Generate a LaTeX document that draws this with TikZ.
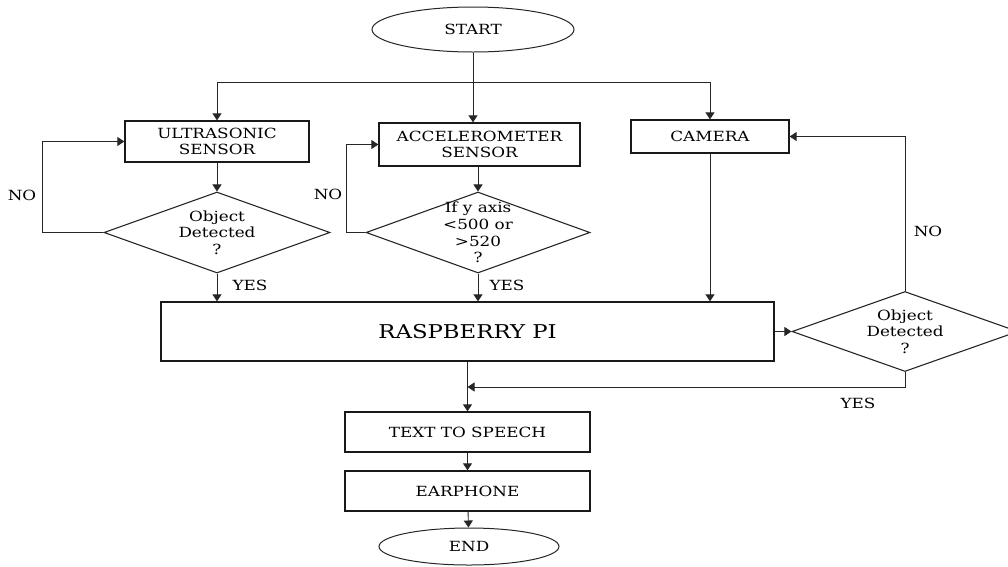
\documentclass[tikz,border=0pt]{standalone}
\usepackage{fontspec}
\setmainfont{DejaVu Serif}[FakeStretch=1.2]
\usetikzlibrary{arrows.meta,shapes.geometric}
\tikzset{
	box/.style={draw=black!90, line width=1.3pt, inner sep=0pt, align=center, font=\fontsize{14}{16.7}\selectfont},
	terminal/.style={ellipse, draw=black!85, line width=1pt, inner sep=0pt, font=\fontsize{14}{16.7}\selectfont},
	decision/.style={diamond, draw=black!85, line width=1.1pt, inner sep=-10pt, aspect=2.8, align=center, font=\fontsize{14}{16.7}\selectfont},
	flow/.style={draw=black!85, line width=0.9pt, -{Triangle[length=7pt,width=9pt]}},
	link/.style={draw=black!85, line width=0.9pt},
	tag/.style={font=\fontsize{14}{16.7}\selectfont}
}

\begin{document}
\begin{tikzpicture}[x=1pt, y=-1pt]
			%%%%% START %%%%%
			\useasboundingbox (0, 0) rectangle (1008, 566);
			
			\node[terminal, minimum width=202pt, minimum height=45pt] (start) at (473, 29.5) {START};
			\coordinate (split) at (473, 82);
			
			\node[box, minimum width=184pt, minimum height=41pt] (ultra) at (217, 141.5) {ULTRASONIC\\SENSOR};
			\node[box, minimum width=201pt, minimum height=43pt] (accel) at (479.5, 144.5) {ACCELEROMETER\\SENSOR};
			\node[box, minimum width=158pt, minimum height=33pt] (camera) at (710, 136.5) {CAMERA};
			
			\node[decision, minimum width=226pt, minimum height=81pt] (udec) at (217, 232.5) {Object\\Detected\\?};
			\node[decision, minimum width=224pt, minimum height=81pt] (adec) at (478, 232.5) {If y axis\\<500 or\\>520\\?};
			
			\node[box, minimum width=613pt, minimum height=59pt, font=\fontsize{19}{22}\selectfont] (rpi) at (467.5, 331.5) {RASPBERRY PI};
			\node[decision, minimum width=226pt, minimum height=80pt] (rdec) at (905, 331.5) {Object\\Detected\\?};
			\coordinate (merge) at (467.5, 387);
			
			\node[box, minimum width=245pt, minimum height=40pt] (tts) at (467.5, 432) {TEXT TO SPEECH};
			\node[box, minimum width=245pt, minimum height=40pt] (ear) at (467.5, 491) {EARPHONE};
			\node[terminal, minimum width=180pt, minimum height=37pt] (end) at (469, 546.5) {END};
			
			%%%%% LABELS %%%%%
			\node[tag] (noultra) at (22, 195) {NO};
			\node[tag] (noaccel) at (328, 194) {NO};
			\node[tag] (nocam) at (928, 231) {NO};
			\node[tag] (yesultra) at (250, 285) {YES};
			\node[tag] (yesaccel) at (507, 285) {YES};
			\node[tag] (yescam) at (858, 403) {YES};
			
			%%%%% ARROWS %%%%%
			\draw[flow] (start.south) -- (start.south |- accel.north);
			\draw[link] (split -| ultra) -- (split -| camera);
			\draw[flow] (split -| ultra) -- (ultra);
			\draw[flow] (split -| camera) -- (camera);
			
			\draw[flow] (ultra) -- (udec);
			\draw[flow] (accel.south -| adec) -- (adec);
			\draw[flow] (udec.west) -- ++(-61, 0) |- (ultra.west);
			\draw[flow] (adec.west) -- ++(-19, 0) |- (accel.west);
			
			\draw[flow] (udec) -- (udec |- rpi.north);
			\draw[flow] (adec) -- (adec |- rpi.north);
			\draw[flow] (camera) -- (camera |- rpi.north);
			
			\draw[flow] (rpi.east) -- (rdec.west);
			\draw[flow] (rdec) |- (camera);
			\draw[flow] (rdec.south) |- (merge);
			
			\draw[flow] (rpi) -- (tts);
			\draw[flow] (tts) -- (ear);
			\draw[flow] (ear) -- (end);
			
			%%%%% END %%%%%
\end{tikzpicture}
\end{document}
